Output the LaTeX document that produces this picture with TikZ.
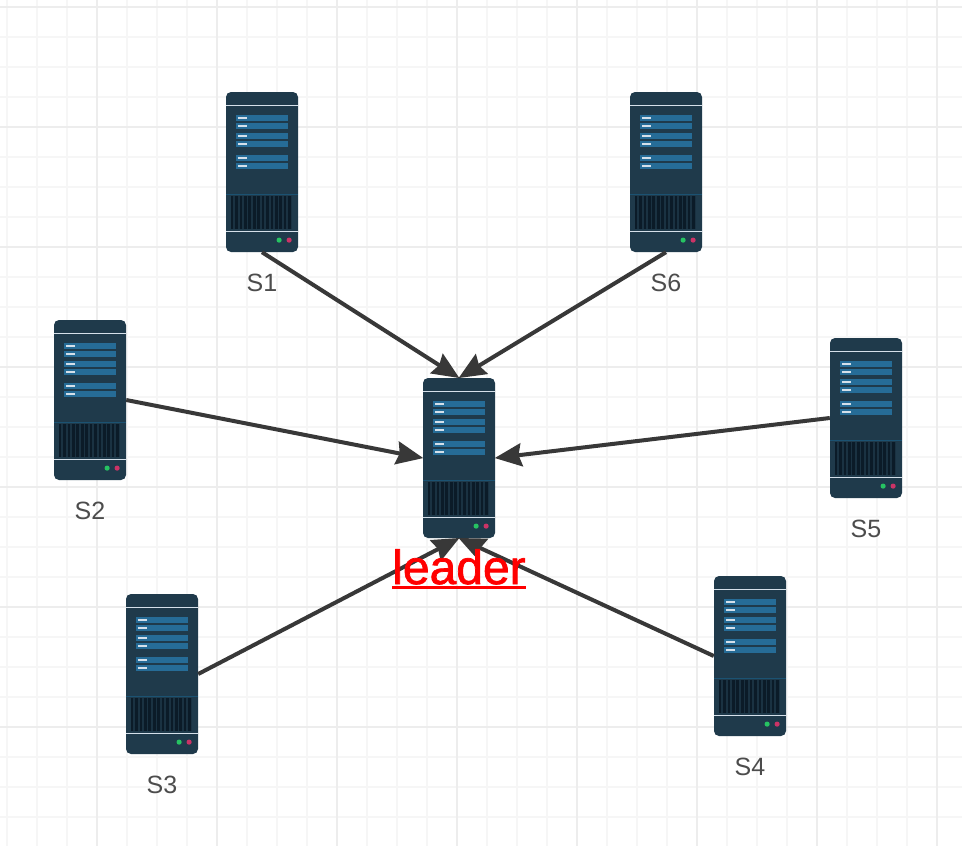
\documentclass[tikz,border=0pt]{standalone}
\usepackage{fontspec}
\setmainfont{Liberation Sans}
\newfontfamily\leaderfont[FakeBold=1.5]{Liberation Sans}
\usepackage{xcolor}
\usetikzlibrary{positioning,calc,arrows.meta}
\definecolor{gridminor}{HTML}{F6F6F6}
\definecolor{gridmajor}{HTML}{EDEDED}
\definecolor{serverbody}{HTML}{1F3A4B}
\definecolor{serverbar}{HTML}{266C97}
\definecolor{serverline}{HTML}{D5E0EA}
\definecolor{serverseam}{HTML}{1B5272}
\definecolor{serverslot}{HTML}{0B1B28}
\definecolor{linkgray}{HTML}{383838}
\tikzset{
  x=1pt,y=-1pt,
  servernode/.style={fill=serverbody,rounded corners=5pt,minimum width=72pt,minimum height=160pt,inner sep=0pt},
  serverlabel/.style={font=\fontsize{25}{27}\selectfont,text=linkgray!90!white,inner sep=0pt,below=22pt of #1},
  link/.style={linkgray,line width=4pt,-{Stealth[length=27pt,width=23pt,inset=3pt]},shorten >=-0.5pt},
  pics/serverpic/.style={code={
    \fill[serverline] (0,12.8) rectangle (72,14.6);
    \foreach \y in {23.3,31.3,41.3,49.3,62.7,70.7} {
      \fill[serverbar] (10.3,\y) rectangle (62,\y+6);
      \fill[serverline] (11.7,\y+2) rectangle (21,\y+4);
    }
    \fill[serverseam] (0,101.8) rectangle (72,102.8);
    \fill[serverbody!75!serverslot] (5,103.7) rectangle (66.3,137);
    \foreach \i in {0,...,13} \fill[serverslot] (5+\i*4.42,103.7) rectangle (7.6+\i*4.42,137);
    \fill[serverline] (0,138.8) rectangle (72,140.6);
    \fill[green!45!teal!85!white] (53.3,148.3) circle [radius=2.6];
    \fill[purple!80!white] (63.3,148.3) circle [radius=2.6];
  }}
}
\begin{document}
\begin{tikzpicture}
  \useasboundingbox (0,0) rectangle (962,846);
  \fill[white] (0,0) rectangle (962,846);
  % grid
  \foreach \x in {7,37,...,967} \draw[gridminor,line width=2.4pt] (\x,0) -- (\x,846);
  \foreach \y in {7,37,...,847} \draw[gridminor,line width=2.4pt] (0,\y) -- (962,\y);
  \foreach \x in {97,217,...,937} \draw[gridmajor,line width=2.4pt] (\x,0) -- (\x,846);
  \foreach \y in {7,127,...,727} \draw[gridmajor,line width=2.4pt] (0,\y) -- (962,\y);
  % servers
  \foreach \name/\x/\y/\txt in {s1/262/172/S1,s2/90/400/S2,s3/162/674/S3,s4/750/656/S4,s5/866/418/S5,s6/666/172/S6} {
    \node[servernode] (\name) at (\x,\y) {};
    \pic at (\name.north west) {serverpic};
    \node[serverlabel=\name] (\name label) {\txt};
  }
  \node[servernode] (leader) at (459,458) {};
  \pic at (leader.north west) {serverpic};
  % links
  \draw[link] (s1.south) -- (leader.north);
  \draw[link] (s6.south) -- (leader.north);
  \draw[link] (s2.east) -- (leader.west);
  \draw[link] (s5.west) -- (leader.east);
  \draw[link] (s3.east) -- (leader.south);
  \draw[link] (s4.west) -- (leader.south);
  % leader text
  \node[text=red,font=\leaderfont\fontsize{48}{50}\selectfont,inner sep=0pt,anchor=base] (leadertext) at (459,584) {leader};
  \fill[red] ($(leadertext.base west)+(0,1.5)$) rectangle ($(leadertext.base east)+(0,4.5)$);
\end{tikzpicture}
\end{document}
